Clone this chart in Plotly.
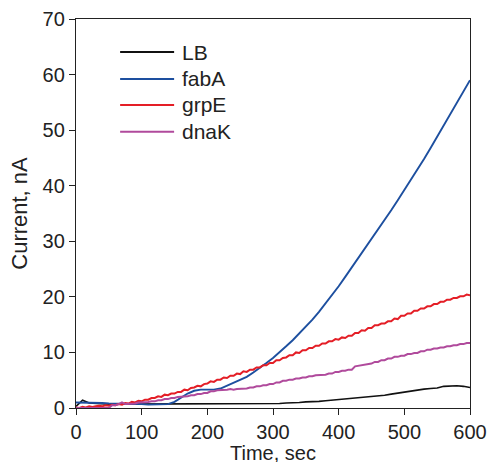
import plotly.graph_objects as go

# ---- data ----
time_10s = list(range(0, 601, 10))
time_5s = list(range(0, 601, 5))

lb = [0.3, 1.4, 0.9, 0.8, 0.8, 0.7, 0.7, 0.7, 0.7, 0.7,
      0.7, 0.7, 0.7, 0.7, 0.7, 0.7, 0.7, 0.7, 0.7, 0.7,
      0.7, 0.7, 0.7, 0.7, 0.7, 0.7, 0.7, 0.7, 0.7, 0.7,
      0.8, 0.8, 0.9, 0.9, 1.0, 1.1, 1.1, 1.2, 1.3, 1.4,
      1.5, 1.6, 1.7, 1.8, 1.9, 2.0, 2.1, 2.3, 2.5, 2.7,
      2.9, 3.1, 3.2, 3.4, 3.5, 3.6, 3.9, 4.0, 4.0, 3.9, 3.7]

faba = [1.0, 1.0, 0.9, 0.9, 0.9, 0.8, 0.8, 0.8, 0.8, 0.7,
        0.7, 0.6, 0.6, 0.6, 0.7, 1.1, 1.8, 2.6, 3.1, 3.3,
        3.3, 3.3, 3.5, 4.0, 4.5, 5.0, 5.6, 6.4, 7.2, 8.1,
        9.0, 10.0, 11.1, 12.2, 13.4, 14.6, 15.9, 17.3, 18.8, 20.3,
        21.9, 23.6, 25.3, 27.0, 28.6, 30.3, 32.0, 33.8, 35.6, 37.4,
        39.2, 41.0, 42.9, 44.8, 46.8, 48.8, 50.9, 53.0, 55.0, 57.0, 59.0]

grpe = [0.1, 0.0, 0.2, 0.1, 0.3, 0.2, 0.3, 0.4, 0.3, 0.5,
        0.4, 0.6, 0.5, 0.7, 0.6, 0.9, 0.8, 1.1, 1.0, 1.3,
        1.2, 1.5, 1.5, 1.8, 1.8, 2.1, 2.0, 2.4, 2.3, 2.6,
        2.6, 2.9, 2.9, 3.3, 3.2, 3.6, 3.7, 4.0, 3.9, 4.3,
        4.4, 4.8, 4.7, 5.1, 5.1, 5.5, 5.4, 5.8, 5.8, 6.2,
        6.1, 6.6, 6.5, 6.9, 6.9, 7.3, 7.3, 7.7, 7.7, 8.1,
        8.1, 8.6, 8.6, 9.0, 9.1, 9.5, 9.5, 10.0, 9.9, 10.4,
        10.4, 10.8, 10.8, 11.2, 11.2, 11.6, 11.6, 12.0, 12.0, 12.4,
        12.3, 12.7, 12.6, 13.0, 13.0, 13.5, 13.5, 14.0, 13.9, 14.4,
        14.4, 14.9, 14.9, 15.2, 15.2, 15.6, 15.6, 16.1, 16.0, 16.6,
        16.6, 17.0, 17.0, 17.5, 17.5, 17.9, 17.9, 18.3, 18.3, 18.7,
        18.7, 19.1, 19.1, 19.5, 19.5, 19.8, 19.8, 20.1, 20.1, 20.4, 20.3]

dnak = [0.0, 0.0, 0.1, 0.0, 0.0, 0.1, 0.0, 0.0, 0.1, 0.0,
        0.0, 0.5, 0.5, 0.7, 1.0, 0.7, 0.7, 0.8, 0.8, 1.0,
        1.0, 1.1, 1.1, 1.2, 1.2, 1.4, 1.4, 1.6, 1.6, 1.8,
        1.8, 2.0, 2.0, 2.1, 2.1, 2.3, 2.3, 2.5, 2.5, 2.7,
        2.7, 3.0, 3.0, 3.2, 3.2, 3.3, 3.3, 3.4, 3.3, 3.4,
        3.4, 3.5, 3.5, 3.7, 3.7, 3.9, 3.9, 4.1, 4.1, 4.3,
        4.3, 4.6, 4.6, 4.9, 4.9, 5.1, 5.1, 5.3, 5.3, 5.5,
        5.5, 5.7, 5.7, 5.9, 5.9, 6.0, 6.0, 6.2, 6.2, 6.5,
        6.5, 6.7, 6.7, 6.9, 6.9, 7.5, 7.6, 7.8, 7.8, 8.0,
        8.0, 8.3, 8.3, 8.6, 8.6, 8.9, 8.9, 9.2, 9.2, 9.4,
        9.4, 9.7, 9.7, 9.9, 9.9, 10.2, 10.2, 10.5, 10.5, 10.7,
        10.7, 10.9, 10.9, 11.1, 11.1, 11.3, 11.3, 11.5, 11.5, 11.7, 11.7]

series_names = ["LB", "fabA", "grpE", "dnaK"]
series_colors = ["#111111", "#1d4f9f", "#e41e26", "#b04a9c"]
series_x = [time_10s, time_10s, time_5s, time_5s]
series_y = [lb, faba, grpe, dnak]
series_width = [1.6, 1.9, 2.0, 2.0]

x_ticks = [0, 100, 200, 300, 400, 500, 600]
y_ticks = [0, 10, 20, 30, 40, 50, 60, 70]

FONT = "Liberation Sans, Arial, sans-serif"
TXT = "#222222"

fig = go.Figure()
for name, col, xs, ys, w in zip(series_names, series_colors, series_x, series_y, series_width):
    fig.add_trace(go.Scatter(x=xs, y=ys, mode="lines", name=name,
                             line=dict(color=col, width=w), showlegend=False))

# custom legend (long line samples as in the reference)
leg_y = [0.915, 0.846, 0.779, 0.710]
for name, col, yy in zip(series_names, series_colors, leg_y):
    fig.add_shape(type="line", xref="paper", yref="paper",
                  x0=0.112, x1=0.249, y0=yy, y1=yy,
                  line=dict(color=col, width=2))
    fig.add_annotation(xref="paper", yref="paper", x=0.265, y=yy,
                       text=name, showarrow=False, xanchor="left", yanchor="middle",
                       font=dict(family=FONT, size=21, color=TXT))

# x-axis title, placed low like the reference
fig.add_annotation(xref="paper", yref="paper", x=0.5, y=0, yanchor="top",
                   yshift=-32, text="Time, sec", showarrow=False,
                   font=dict(family=FONT, size=20, color=TXT))

axis_common = dict(showgrid=False, zeroline=False, showline=True, linecolor=TXT,
                   linewidth=1.3, mirror=True, ticks="outside", ticklen=6,
                   tickwidth=1.3, tickcolor=TXT,
                   tickfont=dict(family=FONT, size=20, color=TXT))

fig.update_xaxes(range=[0, 600], tickvals=x_ticks, **axis_common)
fig.update_yaxes(range=[0, 70], tickvals=y_ticks,
                 title=dict(text="Current, nA", font=dict(family=FONT, size=22, color=TXT),
                            standoff=8),
                 **axis_common)

fig.update_layout(width=489, height=462,
                  margin=dict(l=76, r=19, t=19, b=54, autoexpand=False),
                  paper_bgcolor="white", plot_bgcolor="white",
                  font=dict(family=FONT, color=TXT))

fig.write_html("out.html")
